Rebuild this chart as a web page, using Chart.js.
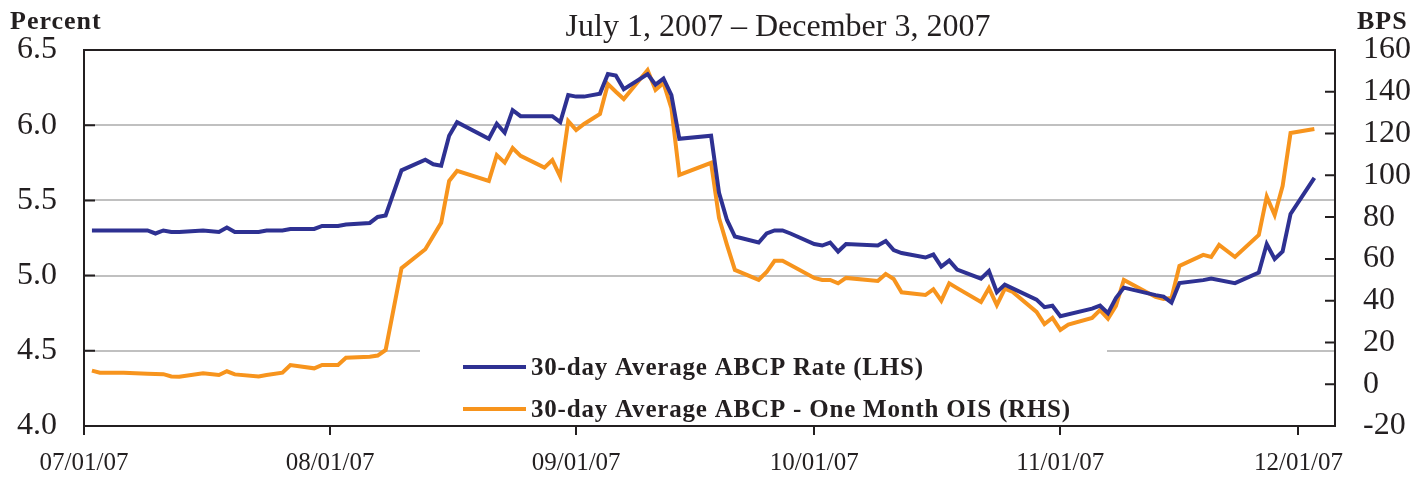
<!DOCTYPE html>
<html>
<head>
<meta charset="utf-8">
<script src="https://cdn.jsdelivr.net/npm/chart.js@4.4.1/dist/chart.umd.min.js"></script>
<style>
  html, body { margin: 0; padding: 0; background: #fff; }
  canvas { display: block; }
</style>
</head>
<body>
<canvas id="abcpChart" width="1427" height="477"></canvas>
<script>
// values
const dates = [
  '2007-07-02', '2007-07-03', '2007-07-06', '2007-07-09', '2007-07-10', '2007-07-11', '2007-07-12', '2007-07-13',
  '2007-07-16', '2007-07-18', '2007-07-19', '2007-07-20', '2007-07-23', '2007-07-24', '2007-07-26', '2007-07-27',
  '2007-07-30', '2007-07-31', '2007-08-02', '2007-08-03', '2007-08-06', '2007-08-07', '2007-08-08', '2007-08-10',
  '2007-08-13', '2007-08-14', '2007-08-15', '2007-08-16', '2007-08-17', '2007-08-21', '2007-08-22', '2007-08-23',
  '2007-08-24', '2007-08-25', '2007-08-28', '2007-08-29', '2007-08-30', '2007-08-31', '2007-09-01', '2007-09-02',
  '2007-09-04', '2007-09-05', '2007-09-06', '2007-09-07', '2007-09-10', '2007-09-11', '2007-09-12', '2007-09-13',
  '2007-09-14', '2007-09-18', '2007-09-19', '2007-09-20', '2007-09-21', '2007-09-24', '2007-09-25', '2007-09-26',
  '2007-09-27', '2007-09-28', '2007-10-01', '2007-10-02', '2007-10-03', '2007-10-04', '2007-10-05', '2007-10-09',
  '2007-10-10', '2007-10-11', '2007-10-12', '2007-10-15', '2007-10-16', '2007-10-17', '2007-10-18', '2007-10-19',
  '2007-10-22', '2007-10-23', '2007-10-24', '2007-10-25', '2007-10-26', '2007-10-29', '2007-10-30', '2007-10-31',
  '2007-11-01', '2007-11-02', '2007-11-05', '2007-11-06', '2007-11-07', '2007-11-08', '2007-11-09', '2007-11-13',
  '2007-11-14', '2007-11-15', '2007-11-16', '2007-11-19', '2007-11-20', '2007-11-21', '2007-11-23', '2007-11-26',
  '2007-11-27', '2007-11-28', '2007-11-29', '2007-11-30', '2007-12-03'
];

// 30-day Average ABCP Rate, percent (LHS)
const abcpRate = [
  5.30, 5.30, 5.30, 5.30, 5.28, 5.30, 5.29, 5.29,
  5.30, 5.29, 5.32, 5.29, 5.29, 5.30, 5.30, 5.31,
  5.31, 5.33, 5.33, 5.34, 5.35, 5.39, 5.40, 5.70,
  5.77, 5.74, 5.73, 5.93, 6.02, 5.91, 6.01, 5.95,
  6.10, 6.06, 6.06, 6.06, 6.02, 6.20, 6.19, 6.19,
  6.21, 6.34, 6.33, 6.24, 6.34, 6.27, 6.31, 6.20,
  5.91, 5.93, 5.55, 5.37, 5.26, 5.22, 5.28, 5.30,
  5.30, 5.28, 5.21, 5.20, 5.22, 5.16, 5.21, 5.20,
  5.23, 5.17, 5.15, 5.12, 5.14, 5.06, 5.10, 5.04,
  4.98, 5.03, 4.89, 4.94, null, 4.84, 4.79, 4.80,
  4.73, null, 4.78, 4.80, 4.75, 4.85, 4.92, 4.87,
  4.86, 4.82, 4.95, 4.97, 4.98, null, 4.95, 5.02,
  5.21, 5.11, 5.16, 5.41, 5.65
];

// 30-day Average ABCP - One Month OIS, basis points (RHS)
const abcpOisSpread = [
  6.5, 5.5, 5.5, 5.0, 4.9, 4.8, 3.7, 3.6,
  5.3, 4.4, 6.2, 4.7, 3.7, 4.4, 5.5, 9.2,
  7.6, 9.2, 9.2, 12.7, 13.2, 13.7, 16.4, 55.6,
  64.6, 71.0, 77.3, 97.3, 102.1, 97.3, 109.7, 106.1,
  113.1, 109.3, 103.7, 107.3, 99.4, 126.0, 121.7, 124.6,
  129.4, 143.7, 140.0, 136.5, 150.4, 140.9, 144.2, 132.2,
  100.2, 106.0, 79.6, 66.7, 54.7, 50.0, 53.7, 59.1,
  59.1, 57.1, 50.9, 49.9, 49.9, 48.3, 50.9, 49.4,
  52.8, 50.4, 44.0, 42.7, 45.4, 40.0, 48.3, 46.0,
  39.4, 46.0, 37.9, 45.7, 44.2, 34.6, 28.8, 31.7,
  26.0, 28.5, 31.7, 35.5, 31.4, 37.5, 49.9, 41.8,
  40.8, 41.3, 56.6, 61.9, 60.9, 66.7, 60.9, 71.4,
  89.8, 81.0, 94.9, 120.3, 122.2
];

const monthTicks = ['2007-07-01', '2007-08-01', '2007-09-01', '2007-10-01', '2007-11-01', '2007-12-01'];
const monthLabels = ['07/01/07', '08/01/07', '09/01/07', '10/01/07', '11/01/07', '12/01/07'];
const rateTicks = [4.0, 4.5, 5.0, 5.5, 6.0, 6.5];
const bpsTicks = [-20, 0, 20, 40, 60, 80, 100, 120, 140, 160];

const serif = "'Liberation Serif', 'Times New Roman', serif";
const ink = '#231f20';
const blue = '#2e3192';
const orange = '#f7941d';

const dayZero = Date.UTC(2007, 6, 1);
function dayOf(s) {
    const [y, m, d] = s.split('-').map(Number);
    return (Date.UTC(y, m - 1, d) - dayZero) / 86400000;
}

const tickDays = monthTicks.map(dayOf);

// frame top, inward ticks, titles and the boxed legend
const decorations = {
    id: 'decorations',
    afterDraw(chart) {
        const { ctx, chartArea: a, scales } = chart;
        ctx.save();
        ctx.strokeStyle = ink;
        ctx.lineWidth = 2;
        ctx.beginPath();
        ctx.moveTo(a.left, a.top);
        ctx.lineTo(a.right, a.top);
        rateTicks.forEach(v => {
            const y = scales.y.getPixelForValue(v);
            ctx.moveTo(a.left, y);
            ctx.lineTo(a.left + 11, y);
        });
        bpsTicks.forEach(v => {
            const y = scales.y1.getPixelForValue(v);
            ctx.moveTo(a.right - 10, y);
            ctx.lineTo(a.right, y);
        });
        ctx.stroke();

        ctx.fillStyle = ink;
        ctx.textBaseline = 'alphabetic';
        ctx.font = 'bold 26px ' + serif;
        ctx.letterSpacing = '1px';
        ctx.textAlign = 'left';
        ctx.fillText('Percent', 10, 29);
        ctx.fillText('BPS', 1357, 29);
        ctx.letterSpacing = '0px';
        ctx.font = '32px ' + serif;
        ctx.textAlign = 'center';
        ctx.fillText('July 1, 2007 \u2013 December 3, 2007', 778, 36);

        // legend
        ctx.fillStyle = '#fff';
        ctx.fillRect(420, 338, 687, 84);
        const items = [
            { label: '30-day Average ABCP Rate (LHS)', color: blue, y: 367 },
            { label: '30-day Average ABCP - One Month OIS (RHS)', color: orange, y: 409 }
        ];
        ctx.font = 'bold 25px ' + serif;
        ctx.letterSpacing = '0.8px';
        ctx.textAlign = 'left';
        items.forEach(it => {
            ctx.strokeStyle = it.color;
            ctx.lineWidth = 4;
            ctx.beginPath();
            ctx.moveTo(463, it.y);
            ctx.lineTo(526, it.y);
            ctx.stroke();
            ctx.fillStyle = ink;
            ctx.fillText(it.label, 531, it.y + 8);
        });
        ctx.restore();
    }
};

new Chart(document.getElementById('abcpChart'), {
    type: 'line',
    data: {
        datasets: [
            {
                label: '30-day Average ABCP Rate (LHS)',
                data: dates.map((d, i) => ({ x: dayOf(d), y: abcpRate[i] })),
                borderColor: blue,
                borderWidth: 4,
                yAxisID: 'y'
            },
            {
                label: '30-day Average ABCP - One Month OIS (RHS)',
                data: dates.map((d, i) => ({ x: dayOf(d), y: abcpOisSpread[i] })),
                borderColor: orange,
                borderWidth: 4,
                yAxisID: 'y1'
            }
        ]
    },
    options: {
        responsive: false,
        animation: false,
        spanGaps: true,
        elements: { point: { radius: 0 }, line: { tension: 0 } },
        layout: { padding: { top: 50, left: 0, right: 0, bottom: 0 } },
        plugins: { legend: { display: false }, tooltip: { enabled: false } },
        scales: {
            x: {
                type: 'linear',
                min: 0,
                max: 157.6,
                afterBuildTicks: scale => { scale.ticks = tickDays.map(v => ({ value: v })); },
                afterFit: scale => { scale.height = 51; },
                ticks: {
                    autoSkip: false,
                    maxRotation: 0,
                    padding: 13,
                    color: ink,
                    font: { family: serif, size: 25 },
                    callback: v => monthLabels[tickDays.indexOf(v)]
                },
                grid: { drawOnChartArea: false, color: ink, lineWidth: 2, tickLength: 9 },
                border: { color: ink, width: 2 }
            },
            y: {
                position: 'left',
                min: 4,
                max: 6.5,
                afterBuildTicks: scale => { scale.ticks = rateTicks.map(v => ({ value: v })); },
                afterFit: scale => { scale.width = 84; },
                ticks: {
                    padding: 27,
                    color: ink,
                    font: { family: serif, size: 32 },
                    callback: v => v.toFixed(1)
                },
                grid: { color: '#c0c0c0', lineWidth: 2, drawTicks: false },
                border: { color: ink, width: 2 }
            },
            y1: {
                position: 'right',
                min: -20,
                max: 160,
                afterBuildTicks: scale => { scale.ticks = bpsTicks.map(v => ({ value: v })); },
                afterFit: scale => { scale.width = 92; },
                ticks: {
                    padding: 28,
                    color: ink,
                    font: { family: serif, size: 32 },
                    callback: v => String(v)
                },
                grid: { drawOnChartArea: false, drawTicks: false },
                border: { color: ink, width: 2 }
            }
        }
    },
    plugins: [decorations]
});
</script>
</body>
</html>
